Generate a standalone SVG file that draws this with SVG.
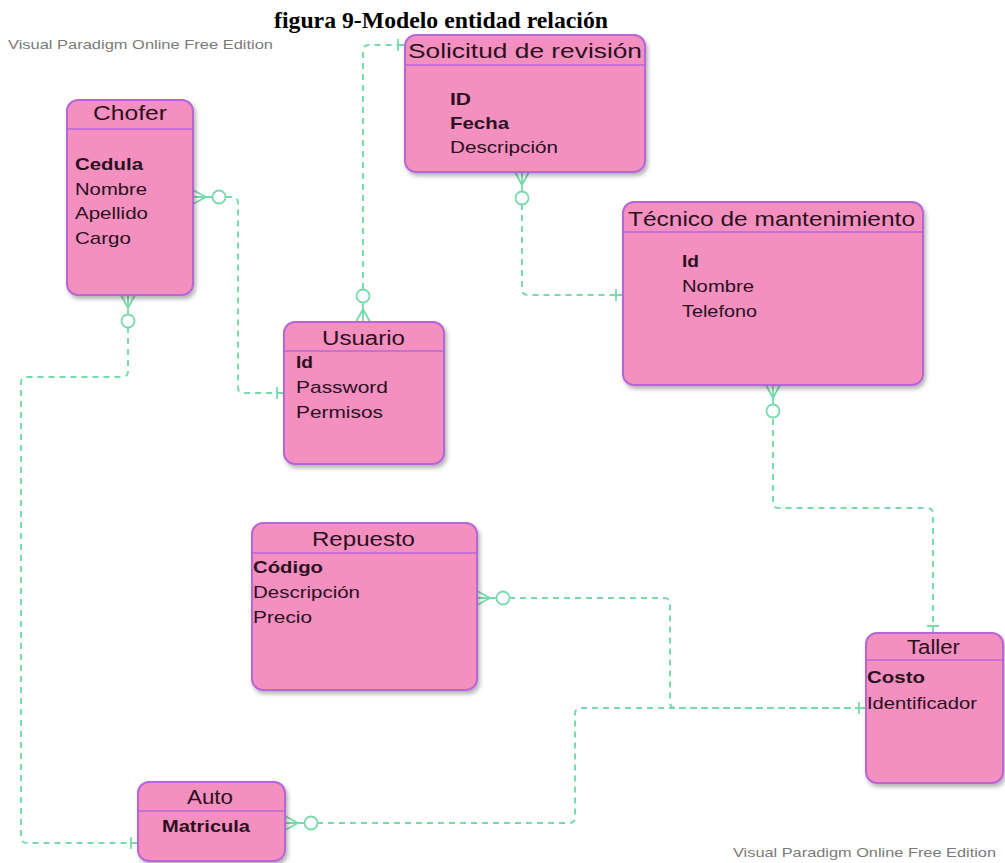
<svg xmlns="http://www.w3.org/2000/svg" xmlns:xlink="http://www.w3.org/1999/xlink" width="1005" height="863" viewBox="0 0 1005 863">
<style>
.box{fill:#F390C0;stroke:#B865D8;stroke-width:2}
.div{stroke:#B865D8;stroke-width:1.6}
.t{font-family:"Liberation Sans",Arial,sans-serif;font-size:20px;fill:#2b0f1e}
.a{font-family:"Liberation Sans",Arial,sans-serif;font-size:17px;fill:#2b0f1e}
.b{font-weight:bold}
.wm{font-family:"Liberation Sans",Arial,sans-serif;font-size:13px;fill:#7a7a7a}
.ttl{font-family:"Liberation Serif","Times New Roman",serif;font-size:23px;font-weight:bold;fill:#000}
.con{fill:none;stroke:#78DAAA;stroke-width:2;stroke-dasharray:6 5}
.mk{fill:none;stroke:#78DAAA;stroke-width:1.8}
.mkc{fill:#ffffff;stroke:#78DAAA;stroke-width:1.8}
</style>
<defs>
<filter id="sh" x="-10%" y="-10%" width="125%" height="125%">
<feDropShadow dx="2" dy="3" stdDeviation="2" flood-color="#000" flood-opacity="0.3"/>
</filter>
<g id="many">
<path class="mk" d="M0,-7 L13,0 L0,7 M0,0 H13 M13,0 H19"/>
<circle class="mkc" cx="26" cy="0" r="6.5"/>
</g>
<g id="one">
<path class="mk" d="M-7,-6 V6 M-8,0 H0"/>
</g>
</defs>
<rect width="1005" height="863" fill="#ffffff"/>
<text class="ttl" x="274" y="28" textLength="334" lengthAdjust="spacingAndGlyphs">figura 9-Modelo entidad relación</text>
<text class="wm" x="8" y="49" textLength="265" lengthAdjust="spacingAndGlyphs">Visual Paradigm Online Free Edition</text>
<text class="wm" x="733" y="857" textLength="263" lengthAdjust="spacingAndGlyphs">Visual Paradigm Online Free Edition</text>

<g id="connectors">
<path class="con" d="M226,197 H232 Q238,197 238,203 V387 Q238,393 244,393 H284"/>
<path class="con" d="M363,289 V51 Q363,45 369,45 H405"/>
<path class="con" d="M522,204 V289 Q522,295 528,295 H623"/>
<path class="con" d="M773,419 V502 Q773,508 779,508 H927 Q933,508 933,514 V633"/>
<path class="con" d="M128,327 V371 Q128,377 122,377 H27 Q21,377 21,383 V837 Q21,843 27,843 H138"/>
<path class="con" d="M509,598 H664 Q670,598 670,604 V702 Q670,708 676,708 H866"/>
<path class="con" d="M317,823 H569 Q575,823 575,817 V714 Q575,708 581,708 H866"/>
<use xlink:href="#many" transform="translate(193,197)"/>
<use xlink:href="#one" transform="translate(284,393)"/>
<use xlink:href="#many" transform="translate(363,322) rotate(-90)"/>
<use xlink:href="#one" transform="translate(405,45)"/>
<use xlink:href="#many" transform="translate(522,172) rotate(90)"/>
<use xlink:href="#one" transform="translate(623,295)"/>
<use xlink:href="#many" transform="translate(773,385) rotate(90)"/>
<use xlink:href="#one" transform="translate(933,633) rotate(90)"/>
<use xlink:href="#many" transform="translate(128,295) rotate(90)"/>
<use xlink:href="#one" transform="translate(138,843)"/>
<use xlink:href="#many" transform="translate(477,598)"/>
<use xlink:href="#one" transform="translate(866,708)"/>
<use xlink:href="#many" transform="translate(285,823)"/>
</g>

<g id="chofer">
<rect class="box" x="67" y="100" width="126" height="195" rx="11" filter="url(#sh)"/>
<line class="div" x1="67" y1="129" x2="193" y2="129"/>
<text class="t" x="93" y="120" textLength="74" lengthAdjust="spacingAndGlyphs">Chofer</text>
<text class="a b" x="75" y="170" textLength="68" lengthAdjust="spacingAndGlyphs">Cedula</text>
<text class="a" x="75" y="194.5" textLength="72" lengthAdjust="spacingAndGlyphs">Nombre</text>
<text class="a" x="75" y="219" textLength="73" lengthAdjust="spacingAndGlyphs">Apellido</text>
<text class="a" x="75" y="243.5" textLength="56" lengthAdjust="spacingAndGlyphs">Cargo</text>
</g>

<g id="usuario">
<rect class="box" x="284" y="322" width="160" height="142" rx="11" filter="url(#sh)"/>
<line class="div" x1="284" y1="351" x2="444" y2="351"/>
<text class="t" x="322" y="345" textLength="83" lengthAdjust="spacingAndGlyphs">Usuario</text>
<text class="a b" x="296" y="368" textLength="17" lengthAdjust="spacingAndGlyphs">Id</text>
<text class="a" x="296" y="393" textLength="92" lengthAdjust="spacingAndGlyphs">Password</text>
<text class="a" x="296" y="418" textLength="87" lengthAdjust="spacingAndGlyphs">Permisos</text>
</g>

<g id="solicitud">
<rect class="box" x="405" y="35" width="240" height="137" rx="11" filter="url(#sh)"/>
<line class="div" x1="405" y1="65" x2="645" y2="65"/>
<text class="t" x="408" y="58" textLength="234" lengthAdjust="spacingAndGlyphs">Solicitud de revisión</text>
<text class="a b" x="450" y="105" textLength="21" lengthAdjust="spacingAndGlyphs">ID</text>
<text class="a b" x="450" y="129" textLength="59" lengthAdjust="spacingAndGlyphs">Fecha</text>
<text class="a" x="450" y="153" textLength="108" lengthAdjust="spacingAndGlyphs">Descripción</text>
</g>

<g id="tecnico">
<rect class="box" x="623" y="202" width="300" height="183" rx="11" filter="url(#sh)"/>
<line class="div" x1="623" y1="232" x2="923" y2="232"/>
<text class="t" x="628" y="226" textLength="287" lengthAdjust="spacingAndGlyphs">Técnico de mantenimiento</text>
<text class="a b" x="682" y="267" textLength="17" lengthAdjust="spacingAndGlyphs">Id</text>
<text class="a" x="682" y="292" textLength="72" lengthAdjust="spacingAndGlyphs">Nombre</text>
<text class="a" x="682" y="317" textLength="75" lengthAdjust="spacingAndGlyphs">Telefono</text>
</g>

<g id="repuesto">
<rect class="box" x="252" y="523" width="225" height="167" rx="11" filter="url(#sh)"/>
<line class="div" x1="252" y1="553" x2="477" y2="553"/>
<text class="t" x="312" y="546" textLength="103" lengthAdjust="spacingAndGlyphs">Repuesto</text>
<text class="a b" x="253" y="573" textLength="70" lengthAdjust="spacingAndGlyphs">Código</text>
<text class="a" x="253" y="598" textLength="107" lengthAdjust="spacingAndGlyphs">Descripción</text>
<text class="a" x="253" y="623" textLength="59" lengthAdjust="spacingAndGlyphs">Precio</text>
</g>

<g id="taller">
<rect class="box" x="866" y="633" width="137" height="150" rx="11" filter="url(#sh)"/>
<line class="div" x1="866" y1="660" x2="1003" y2="660"/>
<text class="t" x="907" y="654" textLength="53" lengthAdjust="spacingAndGlyphs">Taller</text>
<text class="a b" x="867" y="683" textLength="58" lengthAdjust="spacingAndGlyphs">Costo</text>
<text class="a" x="867" y="709" textLength="110" lengthAdjust="spacingAndGlyphs">Identificador</text>
</g>

<g id="auto">
<rect class="box" x="138" y="782" width="147" height="79" rx="11" filter="url(#sh)"/>
<line class="div" x1="138" y1="811" x2="285" y2="811"/>
<text class="t" x="187" y="804" textLength="46" lengthAdjust="spacingAndGlyphs">Auto</text>
<text class="a b" x="162" y="832" textLength="88" lengthAdjust="spacingAndGlyphs">Matricula</text>
</g>
</svg>
